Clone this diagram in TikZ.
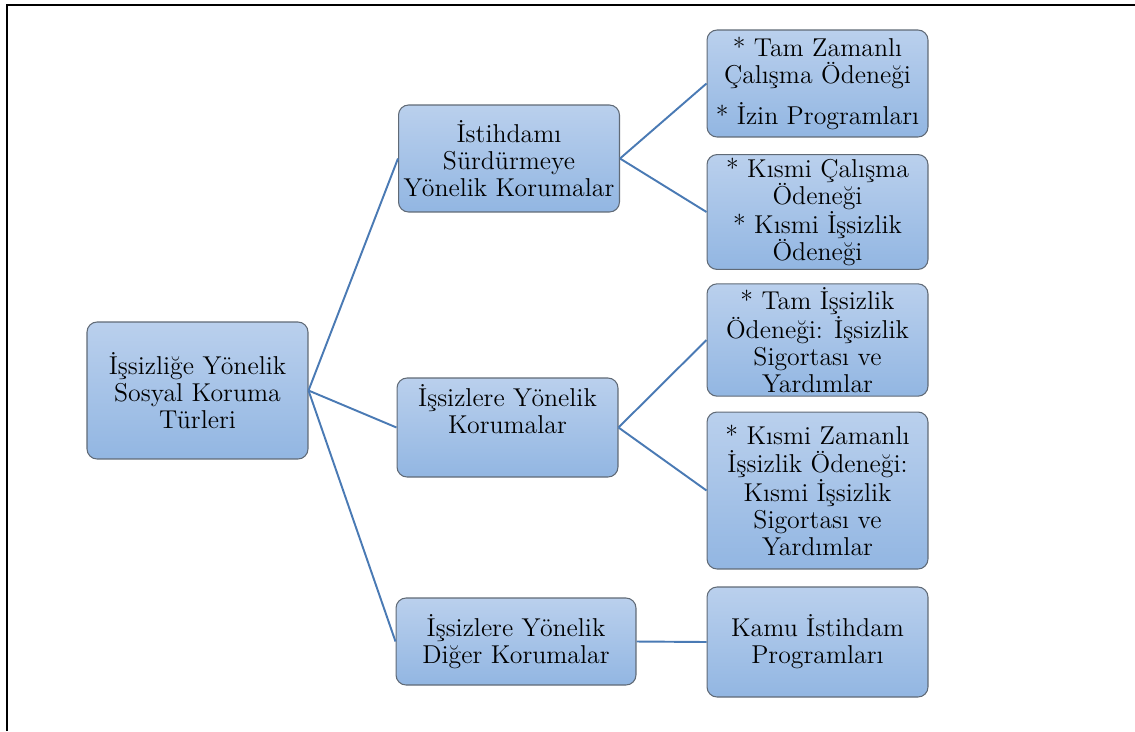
\documentclass[tikz,border=0pt]{standalone}
\usepackage{fontspec}

\definecolor{boxtop}{RGB}{186,208,237}
\definecolor{boxbottom}{RGB}{146,182,226}
\definecolor{boxline}{RGB}{96,106,118}
\definecolor{linkblue}{RGB}{74,122,180}

\tikzset{
  kutu/.style={draw=boxline, line width=0.6pt, rounded corners=0.2cm,
    top color=boxtop, bottom color=boxbottom, align=center, inner sep=2pt,
    font=\rmfamily\fontsize{14.7}{15.4}\selectfont, minimum width=4.42cm},
  bag/.style={draw=linkblue, line width=1.1pt}
}

\begin{document}
\begin{tikzpicture}[x=0.02cm,y=-0.02cm]

    \useasboundingbox (0,0) rectangle (1135,731);

    % frame (top and left only)
    \draw[line width=1.4pt] (7,731) -- (7,5) -- (1135,5);

    % root
    \node[kutu, minimum height=2.74cm] (kok) at (197.5,390.5) {İşsizliğe Yönelik\\Sosyal Koruma\\Türleri};

    %%%%%%%%%%%%%%%%%%%%%%%%%%%%%%%%%%%%%%%%%%%%%%%%%%%%%%

    % protections for keeping employment
    \node[kutu, minimum height=2.14cm] (istihdam) at (509,158.5) {İstihdamı\\Sürdürmeye\\Yönelik Korumalar};

    % protections for the unemployed
    \node[kutu, minimum height=1.98cm] (issiz) at (507.5,427.5) {İşsizlere Yönelik\\Korumalar\\[6pt]\mbox{}};

    % other protections for the unemployed
    \node[kutu, minimum width=4.8cm, minimum height=1.74cm] (diger) at (516,641.5) {İşsizlere Yönelik\\Diğer Korumalar};

    %%%%%%%%%%%%%%%%%%%%%%%%%%%%%%%%%%%%%%%%%%%%%%%%%%%%%%

    % full time work allowance
    \node[kutu, minimum height=2.14cm] (tam) at (817.5,83.5) {* Tam Zamanlı\\Çalışma Ödeneği\\[7pt]* İzin Programları};

    % partial work allowance
    \node[kutu, minimum height=2.24cm] (kismi) at (817.5,212) {* Kısmi Çalışma\\Ödeneği\\* Kısmi İşsizlik\\Ödeneği};

    % full unemployment allowance
    \node[kutu, minimum height=2.2cm] (tamissiz) at (817.5,340) {* Tam İşsizlik\\Ödeneği: İşsizlik\\Sigortası ve\\Yardımlar};

    % part time unemployment allowance
    \node[kutu, minimum height=3.14cm] (kismiissiz) at (817.5,490.5) {* Kısmi Zamanlı\\İşsizlik Ödeneği:\\Kısmi İşsizlik\\Sigortası ve\\Yardımlar};

    % public employment programmes
    \node[kutu, minimum height=2.2cm] (kamu) at (817.5,642) {Kamu İstihdam\\Programları};

    %%%%%%%%%%%%%%%%%%%%%%%%%%%%%%%%%%%%%%%%%%%%%%%%%%%%%%

    % links
    \draw[bag] (kok.east) -- (istihdam.west);
    \draw[bag] (kok.east) -- (issiz.west);
    \draw[bag] (kok.east) -- (diger.west);
    \draw[bag] (istihdam.east) -- (tam.west);
    \draw[bag] (istihdam.east) -- (kismi.west);
    \draw[bag] (issiz.east) -- (tamissiz.west);
    \draw[bag] (issiz.east) -- (kismiissiz.west);
    \draw[bag] (diger.east) -- (kamu.west);

\end{tikzpicture}
\end{document}
